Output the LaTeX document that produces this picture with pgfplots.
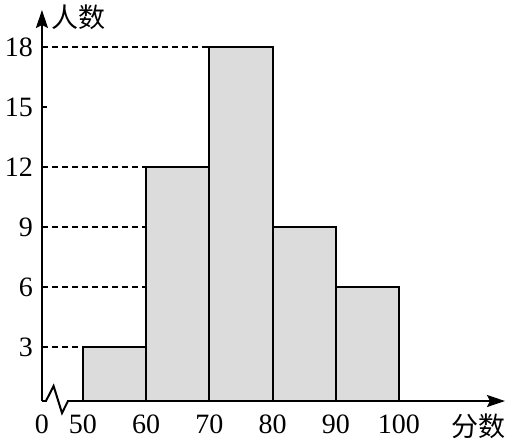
\documentclass[border=0pt]{standalone}
\usepackage{pgfplots}
\pgfplotsset{compat=1.18}
\usepackage{fontspec}
\setmainfont{Liberation Serif}
\newfontfamily\cjk{Noto Sans CJK SC}
\usetikzlibrary{arrows.meta}
\definecolor{barfill}{HTML}{DCDCDC}
\begin{document}
\begin{tikzpicture}
\begin{axis}[
  scale only axis,
  width=231.5pt, height=195.5pt,
  xmin=43.51, xmax=116.77,
  ymin=0.3, ymax=19.85,
  axis x line=bottom, axis y line=left,
  axis line style={line width=1pt},
  x axis line style={-{Stealth[length=9pt,width=6pt,inset=1.5pt]}},
  y axis line style={-{Stealth[length=9pt,width=6pt,inset=1.5pt]}},
  xtick={43.51,50,60,70,80,90,100},
  xticklabels={0,50,60,70,80,90,100},
  ytick={3,6,9,12,15,18},
  tick align=inside,
  major tick length=2.5pt,
  xtick style={draw=none},
  ytick style={line width=1pt,black},
  tick label style={font=\fontsize{14}{16}\selectfont},
  xticklabel style={yshift=-3.5pt},
  yticklabel style={xshift=-1pt},
  /pgf/number format/assume math mode=true,
]
\addplot[dashed, dash pattern=on 3pt off 2pt, line width=0.8pt] coordinates {(43.51,18) (70,18)};
\addplot[dashed, dash pattern=on 3pt off 2pt, line width=0.8pt] coordinates {(43.51,12) (60,12)};
\addplot[dashed, dash pattern=on 3pt off 2pt, line width=0.8pt] coordinates {(43.51,9) (60,9)};
\addplot[dashed, dash pattern=on 3pt off 2pt, line width=0.8pt] coordinates {(43.51,6) (60,6)};
\addplot[dashed, dash pattern=on 3pt off 2pt, line width=0.8pt] coordinates {(43.51,3) (50,3)};
\addplot[ybar interval, fill=barfill, draw=black, line width=1pt] coordinates {
  (50,3) (60,12) (70,18) (80,9) (90,6) (100,6)
};
\coordinate (z0) at (axis cs:44.30,0.3);
\coordinate (z1) at (axis cs:45.35,1.05);
\coordinate (z2) at (axis cs:46.68,-0.3);
\coordinate (z3) at (axis cs:47.47,0.3);
\coordinate (yl) at (axis cs:49.3,19.5);
\coordinate (xl) at (axis cs:112.5,-0.95);
\coordinate (bl) at (axis cs:36.87,-1.75);
\coordinate (tr) at (axis cs:117.88,20.35);
\end{axis}
\draw[white, line width=3pt] (z0) -- (z3);
\draw[black, line width=1pt, line join=miter] ([xshift=-0.5pt]z0) -- (z1) -- (z2) -- ([xshift=0.5pt]z3);
\node[font=\cjk\fontsize{13.5}{15}\selectfont] at (yl) {人数};
\node[font=\cjk\fontsize{13.5}{15}\selectfont] at (xl) {分数};
\pgfresetboundingbox
\useasboundingbox (bl) rectangle (tr);
\end{tikzpicture}
\end{document}
